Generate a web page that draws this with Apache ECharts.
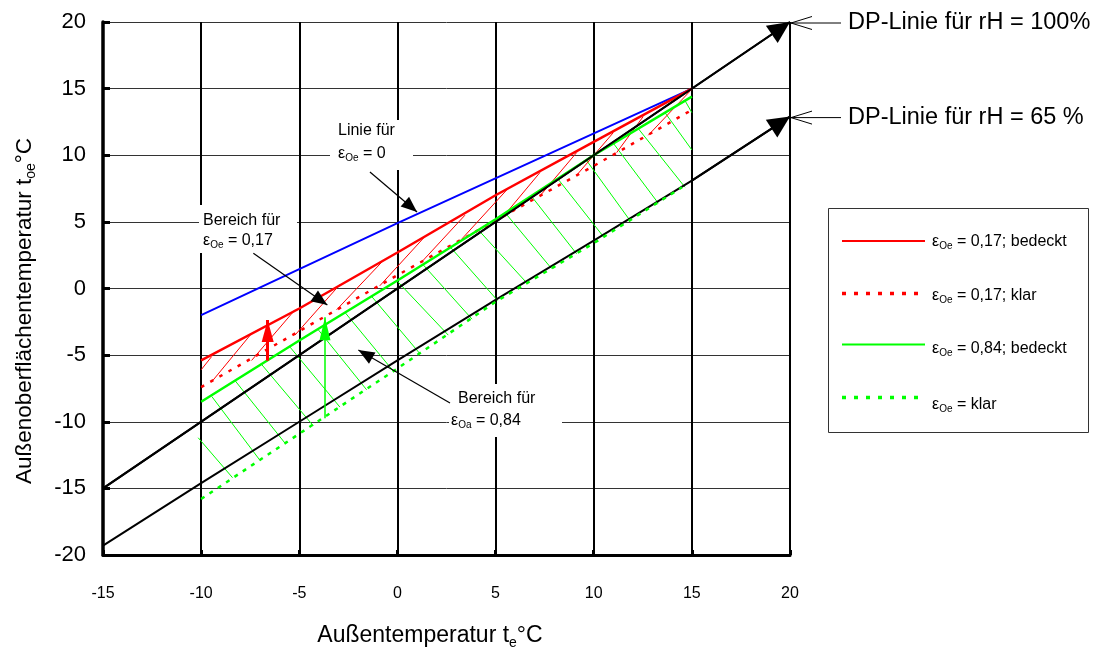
<!DOCTYPE html>
<html><head><meta charset="utf-8">
<script src="https://cdn.jsdelivr.net/npm/echarts@6/dist/echarts.min.js"></script>
<style>html,body{margin:0;padding:0;background:#fff}#c{width:1098px;height:653px}</style>
</head><body><div id="c"></div>
<script>
// ---------- data ----------
const xTickLabels = ['-15','-10','-5','0','5','10','15','20'];
const yTickLabels = ['-20','-15','-10','-5','0','5','10','15','20'];

const dp100 = [[-15,-15],[20,20]];                                   // DP-Linie rH = 100 %
const dp65  = [[-15,-19.3],[-10,-14.6],[-5,-10.0],[0,-5.4],[5,-0.85],[10,3.6],[15,8.1],[20,12.9]]; // rH = 65 %
const eps0  = [[-10,-2.0],[0,4.9],[15,15.0]];                         // Linie für eps = 0
const red017Cloudy  = [[-10,-5.4],[-5,-1.5],[0,2.7],[5,7.0],[10,11.0],[15,15.0]];
const red017Clear   = [[-10,-7.4],[-5,-3.2],[0,1.0],[5,5.1],[10,9.2],[15,13.4]];
const green084Cloudy= [[-10,-8.5],[-5,-3.9],[0,0.6],[5,5.2],[10,10.0],[15,14.4]];
const green084Clear = [[-10,-15.8],[-5,-10.9],[0,-6.0],[5,-1.0],[10,3.4],[14.5,7.6]];

// hatch segments [x1, y1, x2, y2]
const redHatch = [
  [-10,-6.1,-9.46,-5.1],[-9.46,-7.0,-7.5,-3.5],[-7.43,-5.4,-5.22,-1.6],[-5.22,-3.5,-2.93,0.3],
  [-3.1,-1.6,-0.72,2.1],[-0.9,0.2,1.4,3.9],[1.24,2.0,3.44,5.5],[3.27,3.7,5.57,7.4],
  [5.39,5.4,7.26,8.7],[7.35,7.1,9.13,10.2],[9.13,8.5,11.0,11.7],[11.17,10.2,12.52,12.9],[12.78,11.5,14.9,14.8]
];
const greenHatch = [
  [-10.15,-11.2,-8.4,-14.2],[-9.46,-8.1,-7.0,-12.9],[-8.28,-6.9,-5.73,-11.6],[-6.92,-5.7,-4.29,-10.3],
  [-5.47,-4.4,-2.93,-8.9],[-4.03,-3.1,-1.57,-7.6],[-2.67,-1.8,-0.21,-6.2],[-1.31,-0.6,1.15,-4.9],
  [-0.04,0.6,2.59,-3.5],[1.3,1.8,3.8,-2.3],[2.7,3.1,5.1,-0.9],[4.12,4.4,6.6,0.4],
  [5.48,5.7,7.85,1.5],[6.84,6.9,9.13,2.6],[8.19,8.2,10.49,3.9],[9.64,9.6,11.85,5.1],
  [11.0,10.9,13.29,6.4],[12.27,12.0,14.65,7.6],[13.63,13.2,15.0,10.4],[14.65,14.1,15.0,13.2]
];
const redArrow   = [[-6.61,-5.42],[-6.61,-2.36]];
const greenArrow = [[-3.69,-9.74],[-3.69,-2.16]];
const noteArrows = [
  [[-1.40,8.74],[1.0,5.74]],     // Linie für eps = 0
  [[-7.34,2.64],[-3.57,-1.24]],  // Bereich eps = 0,17
  [[2.68,-8.59],[-1.99,-4.62]]   // Bereich eps = 0,84
];

// ---------- helpers ----------
const F = 'Liberation Sans, Arial, sans-serif';
const RED = '#ff0000', GREEN = '#00ff00', BLUE = '#0000ff';
function arrowSym(len, halfW) {
  return 'path://M' + (-len) + ',' + (-len) + 'M' + len + ',' + len +
         'M0,0L' + (-halfW) + ',' + len + 'L' + halfW + ',' + len + 'Z';
}
function segs(arr) { return arr.map(s => ({coords: [[s[0], s[1]], [s[2], s[3]]]})); }
function lineSeries(name, data, color, width, type) {
  return {type: 'line', name, data, showSymbol: false, symbol: 'none', silent: true,
    lineStyle: {color, width, type: type || 'solid', cap: 'butt'}, z: 3};
}
function arrowSeries(coordsList, color, width, len, halfW, z) {
  return {type: 'lines', coordinateSystem: 'cartesian2d', silent: true, z: z || 4,
    symbol: ['none', arrowSym(len, halfW)], symbolSize: [1, 2 * len],
    lineStyle: {color, width, opacity: 1, curveness: 0},
    data: coordsList.map(c => ({coords: c}))};
}
function lastSeg(arr) { return [arr[arr.length - 2], arr[arr.length - 1]]; }

const chart = echarts.init(document.getElementById('c'));
chart.setOption({
  animation: false,
  backgroundColor: '#fff',
  grid: {left: 103, right: 308, top: 22, bottom: 98},
  xAxis: {type: 'value', min: -15, max: 20, interval: 5,
    axisLine: {show: true, onZero: false, lineStyle: {color: '#000', width: 3}},
    axisTick: {show: true, inside: true, length: 5, lineStyle: {color: '#000', width: 3}},
    axisLabel: {color: '#000', fontSize: 16, fontFamily: 'Liberation Sans Narrow, Liberation Sans, Arial', margin: 31,
      formatter: v => xTickLabels[Math.round((v + 15) / 5)]},
    splitLine: {show: true, lineStyle: {color: '#000', width: 2}}},
  yAxis: {type: 'value', min: -20, max: 20, interval: 5,
    axisLine: {show: true, onZero: false, lineStyle: {color: '#000', width: 3.5}},
    axisTick: {show: true, inside: true, length: 7, lineStyle: {color: '#000', width: 3}},
    axisLabel: {color: '#000', fontSize: 22, fontFamily: F, margin: 17,
      formatter: v => yTickLabels[Math.round((v + 20) / 5)]},
    splitLine: {show: true, lineStyle: {color: '#333', width: 1}}},
  series: [
    {type: 'lines', coordinateSystem: 'cartesian2d', silent: true, z: 2,
      lineStyle: {color: GREEN, width: 1, opacity: 1}, data: segs(greenHatch)},
    {type: 'lines', coordinateSystem: 'cartesian2d', silent: true, z: 2,
      lineStyle: {color: RED, width: 1, opacity: 1}, data: segs(redHatch)},
    lineSeries('dp100', dp100, '#000', 2),
    lineSeries('dp65', dp65, '#000', 2),
    lineSeries('eps0', eps0, BLUE, 2),
    lineSeries('r1', red017Cloudy, RED, 2.5),
    lineSeries('r2', red017Clear, RED, 2.5, [3.5, 7]),
    lineSeries('g1', green084Cloudy, GREEN, 2.5),
    lineSeries('g2', green084Clear, GREEN, 2.5, [4, 6]),
    arrowSeries([lastSeg(dp100), lastSeg(dp65)], '#000', 2, 22, 10.5, 5),
    arrowSeries(noteArrows, '#000', 1.2, 16, 6.5, 5),
    arrowSeries([redArrow], RED, 3, 22, 6, 5),
    arrowSeries([greenArrow], GREEN, 1.5, 23, 5.5, 5)
  ]
});

// ---------- annotations (positions derived from the axes) ----------
const P = (x, y) => chart.convertToPixel({gridIndex: 0}, [x, y]);
function rich(fs) {
  return {
    n: {fontSize: fs, fontFamily: F, fill: '#000', lineHeight: Math.round(fs * 1.2)},
    s: {fontSize: Math.round(fs * 0.62), fontFamily: F, fill: '#000', verticalAlign: 'bottom', lineHeight: Math.round(fs * 0.62)}
  };
}
function txt(x, y, text, fs, opt) {
  return Object.assign({type: 'text', x, y, z: 20, silent: true,
    style: {text, rich: rich(fs), align: 'left', verticalAlign: 'middle', fill: '#000', font: fs + 'px ' + F}}, opt || {});
}
const g = [];
// white label boxes (cover the grid, below the curves)
g.push({type: 'rect', z: 1, silent: true, shape: {x: 330, y: 120, width: 83, height: 50}, style: {fill: '#fff'}});
g.push({type: 'rect', z: 1, silent: true, shape: {x: 199, y: 205, width: 98, height: 48}, style: {fill: '#fff'}});
g.push({type: 'rect', z: 1, silent: true, shape: {x: 449, y: 384, width: 113, height: 53}, style: {fill: '#fff'}});
g.push(txt(338, 131, '{n|Linie für}', 16));
g.push(txt(338, 154, '{n|ε}{s|Oe}{n| = 0}', 16));
g.push(txt(203, 221, '{n|Bereich für}', 16));
g.push(txt(203, 241, '{n|ε}{s|Oe}{n| = 0,17}', 16));
g.push(txt(458, 399, '{n|Bereich für}', 16));
g.push(txt(451, 421, '{n|ε}{s|Oa}{n| = 0,84}', 16));

// DP line pointers
[[dp100[dp100.length - 1], 'DP-Linie für rH = 100%'], [dp65[dp65.length - 1], 'DP-Linie für rH = 65 %']].forEach(([pt, label]) => {
  const p = P(pt[0], pt[1]);
  const px = p[0] + 1, py = p[1] + 1;
  g.push({type: 'line', z: 20, silent: true, shape: {x1: px, y1: py, x2: px + 50, y2: py}, style: {stroke: '#000', lineWidth: 1}});
  g.push({type: 'polyline', z: 20, silent: true, shape: {points: [[px + 21, py - 6.5], [px, py], [px + 21, py + 6.5]]}, style: {stroke: '#000', lineWidth: 1, fill: null}});
  g.push({type: 'text', z: 20, silent: true, x: px + 57, y: py, style: {text: label, font: '23.5px ' + F, fill: '#000', align: 'left', verticalAlign: 'middle'}});
});

// legend box
g.push({type: 'rect', z: 1, silent: true, shape: {x: 828.5, y: 208.5, width: 260, height: 224}, style: {fill: '#fff', stroke: '#333', lineWidth: 1}});
const legendItems = [
  {color: RED, dash: null, y: 241, ty: 242, text: '{n|ε}{s|Oe}{n| = 0,17; bedeckt}'},
  {color: RED, dash: [4, 8], y: 293.5, ty: 296, text: '{n|ε}{s|Oe}{n| = 0,17; klar}'},
  {color: GREEN, dash: null, y: 344.5, ty: 349, text: '{n|ε}{s|Oe}{n| = 0,84; bedeckt}'},
  {color: GREEN, dash: [4, 8], y: 397.5, ty: 405, text: '{n|ε}{s|Oe}{n| = klar}'}
];
legendItems.forEach(it => {
  g.push({type: 'line', z: 21, silent: true, shape: {x1: 842, y1: it.y, x2: it.dash ? 918 : 925, y2: it.y},
    style: {stroke: it.color, lineWidth: it.dash ? 3.5 : 2, lineDash: it.dash, lineCap: 'butt'}});
  g.push(txt(932, it.ty, it.text, 16));
});

// axis titles
g.push({type: 'text', z: 20, silent: true, x: 430, y: 636,
  style: {text: '{n|Außentemperatur t}{s|e}{n|°C}', rich: rich(23), align: 'center', verticalAlign: 'middle'}});
g.push({type: 'text', z: 20, silent: true, x: 25, y: 311, rotation: Math.PI / 2,
  style: {text: '{n|Außenoberflächentemperatur t}{s|oe}{n|°C}', rich: rich(22.5), align: 'center', verticalAlign: 'middle'}});

chart.setOption({graphic: {elements: g}});
</script>
</body></html>
